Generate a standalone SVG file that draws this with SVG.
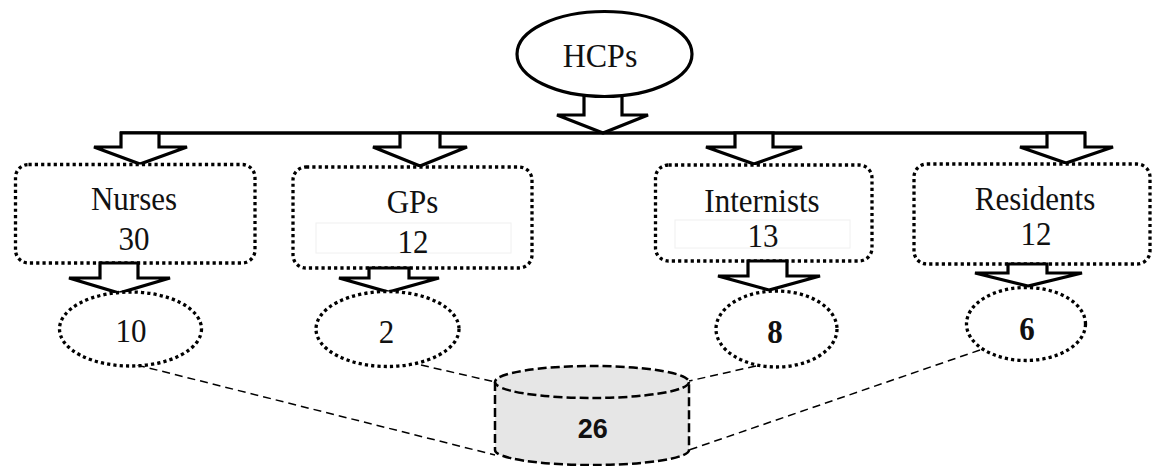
<svg xmlns="http://www.w3.org/2000/svg" width="1154" height="466" viewBox="0 0 1154 466">
<style>
.bg{fill:#fff}
.arrow{fill:#fff;stroke:#000;stroke-width:3.2;stroke-linejoin:miter}
.hline{stroke:#000;stroke-width:3.5;fill:none}
.dot{fill:#fff;stroke:#000;stroke-width:3.3;stroke-dasharray:3.2 3.1}
.solid{fill:#fff;stroke:#000;stroke-width:3.2}
.dash{stroke:#000;stroke-width:1.5;stroke-dasharray:8 5;fill:none}
.cyl{fill:#e6e6e6;stroke:#000;stroke-width:2.5;stroke-dasharray:9 4}
.faint{fill:none;stroke:#f0f0f0;stroke-width:1}
.t{font-family:"Liberation Serif","Times New Roman",serif;font-size:31px;fill:#111;text-anchor:middle}
.tb{font-family:"Liberation Serif","Times New Roman",serif;font-size:31px;font-weight:bold;fill:#111;text-anchor:middle}
.ts{font-family:"Liberation Sans",Arial,sans-serif;font-size:27px;font-weight:bold;fill:#111;text-anchor:middle}
</style>
<rect class="bg" x="0" y="0" width="1154" height="466"/>

<g id="connectors">
  <line class="dash" x1="137" y1="365" x2="495" y2="455"/>
  <line class="dash" x1="421" y1="365" x2="495" y2="382"/>
  <line class="dash" x1="756" y1="366" x2="689" y2="381"/>
  <line class="dash" x1="980" y1="350" x2="689" y2="450"/>
  <line class="hline" x1="120" y1="133" x2="1086" y2="133"/>
  <polygon class="arrow" points="584,90 622,90 622,115 648,115 603,133 557,115 584,115"/>
  <polygon class="arrow" points="121,133 159,133 159,147 187,147 140,164 94,147 121,147"/>
  <polygon class="arrow" points="400,133 440,133 440,147 467,147 420,166 373,147 400,147"/>
  <polygon class="arrow" points="735,133 773,133 773,147 802,147 754,164 706,147 735,147"/>
  <polygon class="arrow" points="1047,133 1085,133 1085,147 1113,147 1066,163 1020,147 1047,147"/>
</g>

<g id="hcps">
  <ellipse class="solid" cx="604.5" cy="54" rx="87.5" ry="42.5"/>
  <text class="t" transform="translate(600 67) scale(1 1.08)" style="font-size:32px">HCPs</text>
</g>

<g id="nurses">
  <rect class="dot" x="15.5" y="164.5" width="239.5" height="98.5" rx="13"/>
  <text class="t" transform="translate(134 210) scale(1 1.08)">Nurses</text>
  <text class="t" transform="translate(134 249.5) scale(1 1.08)">30</text>
</g>
<g id="gps">
  <rect class="dot" x="293" y="167" width="239" height="101" rx="13"/>
  <rect class="faint" x="316" y="223" width="195" height="30"/>
  <text class="t" transform="translate(412.5 213) scale(1 1.08)">GPs</text>
  <text class="t" transform="translate(413 252.5) scale(1 1.08)">12</text>
</g>
<g id="internists">
  <rect class="dot" x="655.5" y="165" width="216.5" height="96" rx="13"/>
  <rect class="faint" x="675" y="220" width="175" height="28"/>
  <text class="t" transform="translate(762 211.5) scale(1 1.08)">Internists</text>
  <text class="t" transform="translate(763 246.5) scale(1 1.08)">13</text>
</g>
<g id="residents">
  <rect class="dot" x="914" y="164" width="236" height="100" rx="13"/>
  <text class="t" transform="translate(1035 210) scale(1 1.08)">Residents</text>
  <text class="t" transform="translate(1036 245) scale(1 1.08)">12</text>
</g>

<g id="lower-arrows">
  <polygon class="arrow" points="100,263 138,263 138,278 170,278 119,293 69,278 100,278"/>
  <polygon class="arrow" points="369,268 409,268 409,278 439,278 388.5,292 339,278 369,278"/>
  <polygon class="arrow" points="748,261 787,261 787,276 820,276 769,290 718,276 748,276"/>
  <polygon class="arrow" points="1008,264 1047,264 1047,273 1082,273 1028,286 975,273 1008,273"/>
</g>

<g id="n10">
  <ellipse class="dot" cx="130.5" cy="329" rx="71" ry="37"/>
  <text class="t" transform="translate(131 342) scale(1 1.08)">10</text>
</g>
<g id="n2">
  <ellipse class="dot" cx="387.5" cy="329" rx="71.5" ry="37.5"/>
  <text class="t" transform="translate(386.5 343) scale(1 1.08)">2</text>
</g>
<g id="n8">
  <ellipse class="dot" cx="776.5" cy="329" rx="60.5" ry="38"/>
  <text class="tb" transform="translate(775 343) scale(1 1.08)">8</text>
</g>
<g id="n6">
  <ellipse class="dot" cx="1026" cy="324" rx="59.5" ry="36.5"/>
  <text class="tb" transform="translate(1027 340) scale(1 1.08)">6</text>
</g>

<g id="total">
  <path class="cyl" d="M495,382 L495,450 A97,15 0 0 0 689,450 L689,382"/>
  <ellipse class="cyl" cx="592" cy="382" rx="97" ry="16"/>
  <text class="ts" x="592.7" y="438">26</text>
</g>
</svg>
